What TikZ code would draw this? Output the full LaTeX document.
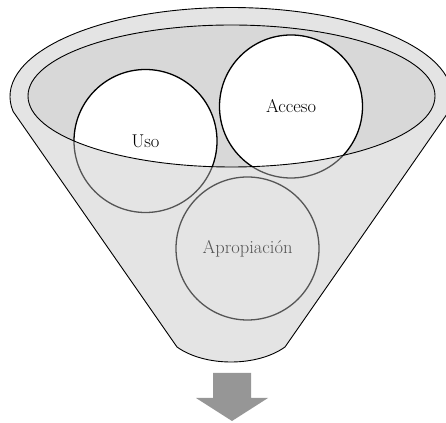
\documentclass[tikz,border=0pt]{standalone}
\usetikzlibrary{calc}
\definecolor{innerfill}{gray}{0.847}
\definecolor{veil}{RGB}{194,194,194}
\definecolor{arrowgray}{RGB}{150,150,150}
\tikzset{
  ball/.style={circle, draw=black, line width=1.3pt, fill=white, minimum size=143pt, inner sep=0pt, font=\fontsize{18.5}{22}\selectfont},
  rim/.style={draw=black, line width=0.9pt}
}
\begin{document}
\begin{tikzpicture}[x=1pt,y=1pt]
\useasboundingbox (0,0) rectangle (446,422);
\clip (0,0) rectangle (446,422);
% base funnel (white) and inner ellipse
\def\funnelpath{(448.8,310.5) arc[start angle=-9.7, end angle=189.7, x radius=221, y radius=89] -- (177,75) .. controls (205,55) and (257,55) .. (285,75) -- cycle}
\fill[white] \funnelpath;
\fill[innerfill] (231.5,326) ellipse[x radius=203.5, y radius=71];
% circles
\node[ball] (uso) at (145.5,281) {Uso};
\node[ball] (acceso) at (291,315.5) {Acceso};
\node[ball] (apro) at (247.5,173.5) {Apropiación};
% translucent front of funnel
\fill[veil, fill opacity=0.44, even odd rule] \funnelpath (231.5,326) ellipse[x radius=203.5, y radius=71];
% outlines
\draw[rim] \funnelpath;
\draw[rim] (231.5,326) ellipse[x radius=203.5, y radius=71];
% arrow
\fill[arrowgray] (213,49) -- (251,49) -- (251,24) -- (268,24) -- (232,1) -- (196,24) -- (213,24) -- cycle;
\end{tikzpicture}
\end{document}
